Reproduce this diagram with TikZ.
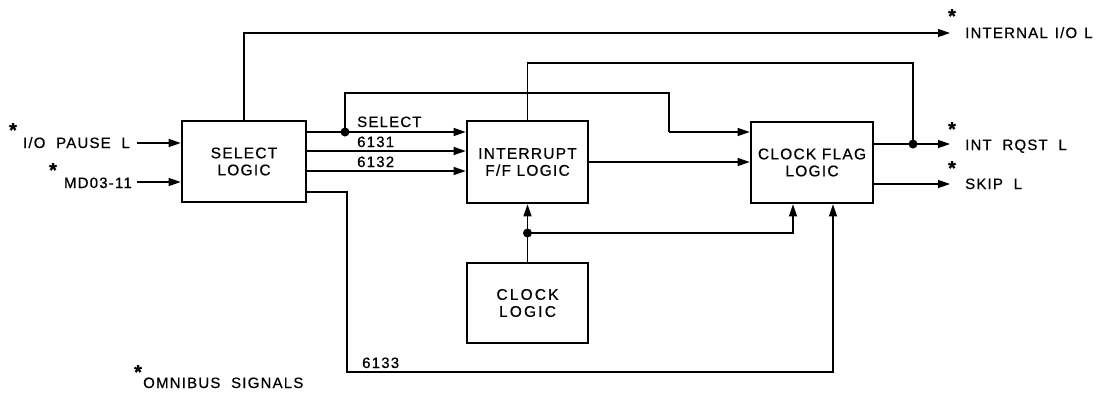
\documentclass[tikz,border=0pt]{standalone}
\usepackage{fontspec}
\setmainfont{Liberation Sans}[LetterSpace=8,FakeBold=0.6]
\usetikzlibrary{arrows.meta}
\begin{document}
\begin{tikzpicture}[x=1pt,y=-1pt,
  lbl/.style={font=\fontsize{15}{17}\selectfont, inner sep=0pt},
  blk/.style={draw, line width=2.6pt, align=center, font=\fontsize{15.5}{17}\selectfont, inner sep=0pt},
  wire/.style={line width=1.2pt},
  arr/.style={wire, -{Triangle[length=12pt,width=8pt]}},
  dotc/.style={circle, fill, inner sep=0pt, minimum size=9pt},
  star/.style={font=\fontsize{20}{20}\selectfont\bfseries, inner sep=0pt}]
\useasboundingbox (0,0) rectangle (1101,392);
% blocks
\node[blk, minimum width=124pt, minimum height=81pt] (sel) at (244,161.5) {SELECT\\LOGIC};
\node[blk, minimum width=121pt, minimum height=82pt] (intr) at (527.5,162) {INTERRUPT\\F/F LOGIC};
\node[blk, minimum width=122pt, minimum height=81pt] (cfl) at (812,162.5) {CLOCK FLAG\\LOGIC};
\node[blk, minimum width=121pt, minimum height=80pt, font=\fontsize{15.5}{17}\selectfont\addfontfeature{LetterSpace=14}] (clk) at (527.5,303) {CLOCK\\LOGIC};
% input labels
\node[lbl, anchor=base east] (iop) at (130,148) {I/O\ \ PAUSE\ \ L};
\node[star] (s1) at (13,130) {*};
\node[lbl, anchor=base east] (md) at (132,188) {MD03-11};
\node[star] (s2) at (53,170) {*};
% output labels
\node[lbl, anchor=base west] (intio) at (965,38) {INTERNAL\hspace{7pt}I/O\hspace{7pt}L};
\node[star] (s3) at (952,16) {*};
\node[lbl, anchor=base west] (rqst) at (965,150) {INT\ \ RQST\ \ L};
\node[star] (s4) at (952,129) {*};
\node[lbl, anchor=base west] (skip) at (965,189) {SKIP\ \ L};
\node[star] (s5) at (952,168) {*};
\node[lbl, anchor=base west] (omni) at (143,388) {OMNIBUS\ \ SIGNALS};
\node[star] (s6) at (138,372) {*};
% wire labels
\node[lbl, anchor=base west] (lsel) at (357,127) {SELECT};
\node[lbl, anchor=base west] (l31) at (357,147) {6131};
\node[lbl, anchor=base west] (l32) at (357,167) {6132};
\node[lbl, anchor=base west] (l33) at (362,368) {6133};
% coordinates
\coordinate (j1) at (345,132);
\coordinate (j2) at (913,144);
\coordinate (j3) at (527.5,233);
\coordinate (e1) at (950,33);
\coordinate (e2) at (950,144);
\coordinate (e3) at (950,184);
% inputs
\draw[arr] ([xshift=7pt]iop.east |- 0,143) -- (sel.west |- 0,143);
\draw[arr] ([xshift=5pt]md.east |- 0,182) -- (sel.west |- 0,182);
% select outputs
\draw[arr] (sel.east |- j1) -- (intr.west |- j1);
\draw[arr] (sel.east |- 0,151) -- (intr.west |- 0,151);
\draw[arr] (sel.east |- 0,171) -- (intr.west |- 0,171);
\draw[wire] (j1) -- (345,93) -- (669,93) -- (669,132);
\draw[arr] (669,132) -- (cfl.west |- 0,132);
\draw[arr] (sel.east |- 0,192) -- (347,192) -- (347,372) -- (833,372) -- (833,0 |- cfl.south);
% internal I/O
\draw[arr] (sel.north) -- (sel.north |- e1) -- (e1);
% interrupt
\draw[arr] (intr.east) -- (cfl.west |- intr.east);
\draw[wire] (intr.north) -- (intr.north |- 0,63) -- (913,63) -- (j2);
\draw[arr] (cfl.east |- j2) -- (e2);
\draw[arr] (cfl.east |- e3) -- (e3);
% clock
\draw[arr] (clk.north) -- (intr.south);
\draw[arr] (j3) -- (793,233) -- (793,0 |- cfl.south);
% dots
\node[dotc] at (j1) {};
\node[dotc] at (j2) {};
\node[dotc] at (j3) {};
\end{tikzpicture}
\end{document}
